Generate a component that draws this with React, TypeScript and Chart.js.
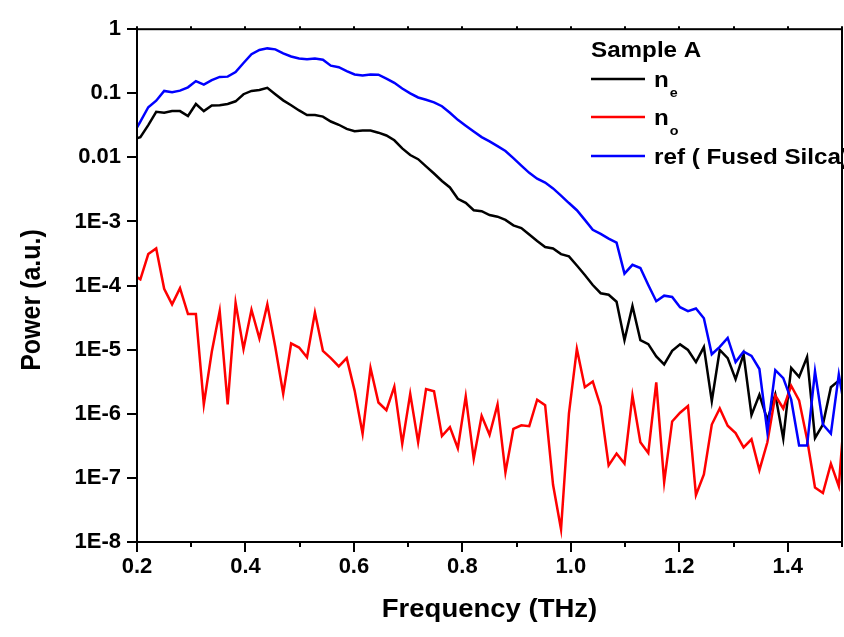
import React, { useEffect, useRef } from "react";
import { Chart, registerables } from "chart.js";

Chart.register(...registerables);

// Frequency samples (THz)
const FREQ = [
  0.1915, 0.2062, 0.2208, 0.2354, 0.2501, 0.2647, 0.2793, 0.294, 0.3086, 0.3232,
  0.3379, 0.3525, 0.3672, 0.3818, 0.3964, 0.4111, 0.4257, 0.4403, 0.455, 0.4696,
  0.4842, 0.4989, 0.5135, 0.5281, 0.5428, 0.5574, 0.5721, 0.5867, 0.6013, 0.616,
  0.6306, 0.6452, 0.6599, 0.6745, 0.6891, 0.7038, 0.7184, 0.733, 0.7477, 0.7623,
  0.777, 0.7916, 0.8062, 0.8209, 0.8355, 0.8501, 0.8648, 0.8794, 0.894, 0.9087,
  0.9233, 0.9379, 0.9526, 0.9672, 0.9819, 0.9965, 1.0111, 1.0258, 1.0404, 1.055,
  1.0697, 1.0843, 1.0989, 1.1136, 1.1282, 1.1428, 1.1575, 1.1721, 1.1868, 1.2014,
  1.216, 1.2307, 1.2453, 1.2599, 1.2746, 1.2892, 1.3038, 1.3185, 1.3331, 1.3477,
  1.3624, 1.377, 1.3917, 1.4063, 1.4209, 1.4356, 1.4502, 1.4648, 1.4795, 1.4941,
  1.5087,
];

// n_e (black)
const N_E = [
  0.0189, 0.0207, 0.0319, 0.0515, 0.0497, 0.0528, 0.0528, 0.0443, 0.0682, 0.0528,
  0.0644, 0.0652, 0.0682, 0.075, 0.0968, 0.109, 0.113, 0.122, 0.0968, 0.0776,
  0.0652, 0.054, 0.0459, 0.0457, 0.0433, 0.0363, 0.0323, 0.0278, 0.0256, 0.0262,
  0.0262, 0.0243, 0.022, 0.0185, 0.0138, 0.0109, 0.00938, 0.00724, 0.00561, 0.00429,
  0.0034, 0.00226, 0.00196, 0.0015, 0.00145, 0.00126, 0.00119, 0.00106, 0.00087, 0.00079,
  0.000625, 0.000495, 0.0004, 0.00038, 0.00031, 0.000286, 0.000206, 0.000146, 0.000102, 7.6e-5,
  7.2e-5, 5.6e-5, 1.41e-5, 4.8e-5, 1.41e-5, 1.22e-5, 7.85e-6, 5.9e-6, 9.6e-6, 1.21e-5,
  9.9e-6, 6.4e-6, 1.1e-5, 1.58e-6, 9.9e-6, 7.4e-6, 3.47e-6, 8.5e-6, 9.6e-7, 1.98e-6,
  8.05e-7, 2.0e-6, 4.1e-7, 5.2e-6, 3.76e-6, 7.7e-6, 4.2e-7, 6.8e-7, 2.6e-6, 3.3e-6,
  2.5e-6,
];

// n_o (red)
const N_O = [
  1.5e-4, 1.25e-4, 3.1e-4, 3.8e-4, 8.9e-5, 5.1e-5, 9.1e-5, 3.6e-5, 3.6e-5, 1.4e-6,
  9.3e-6, 4.0e-5, 1.4e-6, 5.4e-5, 1.03e-5, 4.2e-5, 1.5e-5, 5.1e-5, 1.1e-5, 2.05e-6,
  1.25e-5, 1.08e-5, 7.6e-6, 3.8e-5, 9.6e-6, 7.4e-6, 5.5e-6, 7.4e-6, 2.3e-6, 4.9e-7,
  5.2e-6, 1.5e-6, 1.14e-6, 2.65e-6, 3.4e-7, 2.05e-6, 3.6e-7, 2.44e-6, 2.25e-6, 4.5e-7,
  6.2e-7, 2.9e-7, 1.87e-6, 2.0e-7, 9.3e-7, 4.7e-7, 1.4e-6, 1.22e-7, 5.8e-7, 6.6e-7,
  6.4e-7, 1.66e-6, 1.36e-6, 7.8e-8, 1.58e-8, 1.02e-6, 1.03e-5, 2.6e-6, 3.2e-6, 1.3e-6,
  1.57e-7, 2.4e-7, 1.67e-7, 1.93e-6, 3.6e-7, 2.45e-7, 3.1e-6, 8.6e-8, 7.6e-7, 1.04e-6,
  1.32e-6, 5.4e-8, 1.13e-7, 6.8e-7, 1.21e-6, 6.5e-7, 5.0e-7, 3.0e-7, 4.0e-7, 1.32e-7,
  3.6e-7, 1.93e-6, 1.21e-6, 2.74e-6, 1.62e-6, 4.0e-7, 7.1e-8, 5.8e-8, 1.67e-7, 7.4e-8,
  3e-6,
];

// ref (Fused Silica) (blue)
const REF = [
  0.022, 0.0363, 0.0607, 0.0767, 0.109, 0.104, 0.11, 0.124, 0.155, 0.137,
  0.16, 0.18, 0.182, 0.214, 0.297, 0.407, 0.475, 0.502, 0.485, 0.421,
  0.375, 0.35, 0.341, 0.35, 0.334, 0.27, 0.255, 0.222, 0.197, 0.19,
  0.197, 0.195, 0.169, 0.146, 0.119, 0.1, 0.0861, 0.0794, 0.0723, 0.0629,
  0.0497, 0.0385, 0.0312, 0.0253, 0.0207, 0.0178, 0.015, 0.0126, 0.00973, 0.00743,
  0.00575, 0.00466, 0.00405, 0.00328, 0.00254, 0.00194, 0.0015, 0.00106, 0.00074, 0.00064,
  0.00054, 0.000467, 0.000154, 0.000211, 0.000188, 0.000102, 5.7e-5, 6.97e-5, 6.65e-5, 4.6e-5,
  4.0e-5, 4.4e-5, 3.1e-5, 8.5e-6, 1.11e-5, 1.53e-5, 6.4e-6, 9.3e-6, 8.0e-6, 5.0e-6,
  5.2e-7, 4.8e-6, 3.6e-6, 1.66e-6, 3.2e-7, 3.2e-7, 4.6e-6, 6.8e-7, 4.9e-7, 4.1e-6,
  8e-7,
];

const X_MAJOR = [0.2, 0.4, 0.6, 0.8, 1.0, 1.2, 1.4];
const X_MINOR = [0.3, 0.5, 0.7, 0.9, 1.1, 1.3, 1.5];
const Y_EXP = [-8, -7, -6, -5, -4, -3, -2, -1, 0];
const Y_LABELS = ["1E-8", "1E-7", "1E-6", "1E-5", "1E-4", "1E-3", "0.01", "0.1", "1"];

const FONT = "'Liberation Sans', Arial, Helvetica, sans-serif";
const SX = 1.1;

function drawText(ctx: CanvasRenderingContext2D, text: string, x: number, y: number, font: string, align: CanvasTextAlign = "left", rot = 0) {
  ctx.save();
  ctx.translate(x, y);
  ctx.scale(SX, 1);
  if (rot) ctx.rotate(rot);
  ctx.font = font;
  ctx.fillStyle = "#000";
  ctx.textAlign = align;
  ctx.textBaseline = "alphabetic";
  ctx.fillText(text, 0, 0);
  ctx.restore();
}

const decor = {
  id: "decor",
  afterDraw(chart: any) {
    const { ctx, chartArea, scales } = chart;
    const { left, right, top, bottom } = chartArea;
    const xs = scales.x;
    const ys = scales.y;
    ctx.save();
    ctx.strokeStyle = "#000";
    ctx.lineWidth = 2;
    ctx.strokeRect(left, top, right - left, bottom - top);
    ctx.beginPath();
    for (const v of X_MAJOR) {
      const p = Math.round(xs.getPixelForValue(v));
      ctx.moveTo(p, bottom);
      ctx.lineTo(p, bottom + 10);
      ctx.moveTo(p, top);
      ctx.lineTo(p, top - 3);
    }
    for (const v of X_MINOR) {
      const p = Math.round(xs.getPixelForValue(v));
      ctx.moveTo(p, bottom);
      ctx.lineTo(p, bottom + 5);
      ctx.moveTo(p, top);
      ctx.lineTo(p, top - 3);
    }
    for (const t of ys.ticks) {
      const p = Math.round(ys.getPixelForValue(t.value));
      const e = Math.log10(t.value);
      const major = Math.abs(e - Math.round(e)) < 1e-6;
      ctx.moveTo(left, p);
      ctx.lineTo(left - (major ? 10 : 5), p);
    }
    ctx.stroke();

    // axis titles
    drawText(ctx, "Frequency (THz)", (left + right) / 2, 617, `bold 25px ${FONT}`, "center");
    drawText(ctx, "Power (a.u.)", 40, 300, `bold 25px ${FONT}`, "center", -Math.PI / 2);

    // legend
    drawText(ctx, "Sample A", 591, 57, `bold 22px ${FONT}`);
    const ds = chart.data.datasets;
    const rows = [
      { y: 79, color: ds[0].borderColor, main: "n", sub: "e" },
      { y: 117, color: ds[1].borderColor, main: "n", sub: "o" },
      { y: 156, color: ds[2].borderColor, main: "ref ( Fused Silca)", sub: "" },
    ];
    for (const r of rows) {
      ctx.beginPath();
      ctx.strokeStyle = r.color;
      ctx.lineWidth = 2.5;
      ctx.moveTo(591, r.y);
      ctx.lineTo(645, r.y);
      ctx.stroke();
      drawText(ctx, r.main, 654, r.y + 8, `bold 22px ${FONT}`);
      if (r.sub) {
        ctx.font = `bold 22px ${FONT}`;
        const w = ctx.measureText(r.main).width * SX;
        drawText(ctx, r.sub, 654 + w + 1, r.y + 18, `bold 13px ${FONT}`);
      }
    }
    ctx.restore();
  },
};

export default function App() {
  const ref = useRef<HTMLCanvasElement>(null);
  useEffect(() => {
    const canvas = ref.current!;
    const mk = (arr: number[]) => FREQ.map((x, i) => ({ x, y: arr[i] }));
    const chart = new Chart(canvas, {
      type: "line",
      data: {
        datasets: [
          { label: "n_e", data: mk(N_E), borderColor: "#000000", borderWidth: 2.5, pointRadius: 0, tension: 0, fill: false, order: 3 },
          { label: "n_o", data: mk(N_O), borderColor: "#ff0000", borderWidth: 2.5, pointRadius: 0, tension: 0, fill: false, order: 2 },
          { label: "ref ( Fused Silca)", data: mk(REF), borderColor: "#0000ff", borderWidth: 2.5, pointRadius: 0, tension: 0, fill: false, order: 1 },
        ],
      },
      options: {
        responsive: false,
        animation: false,
        devicePixelRatio: 1,
        clip: 0,
        layout: { padding: { top: 16, right: 2, left: 0, bottom: 0 } },
        plugins: { legend: { display: false }, tooltip: { enabled: false }, title: { display: false } },
        scales: {
          x: {
            type: "linear",
            min: 0.2,
            max: 1.5,
            afterBuildTicks: (s: any) => {
              s.ticks = X_MAJOR.map((v) => ({ value: v }));
            },
            afterFit: (s: any) => {
              s.height = 95;
            },
            grid: { display: false, drawTicks: false },
            border: { display: false },
            ticks: {
              padding: 12,
              color: "#000",
              autoSkip: false,
              maxRotation: 0,
              font: { family: FONT, weight: "bold", size: 22 },
              callback: (v: any) => Number(v).toFixed(1),
            },
          },
          y: {
            type: "logarithmic",
            min: 1e-8,
            max: 1,
            afterBuildTicks: (s: any) => {
              const t: any[] = [];
              for (const e of Y_EXP) {
                for (let m = 1; m <= 9; m++) {
                  if (e === 0 && m > 1) break;
                  t.push({ value: m * Math.pow(10, e) });
                }
              }
              s.ticks = t;
            },
            afterFit: (s: any) => {
              s.width = 137;
            },
            grid: { display: false, drawTicks: false },
            border: { display: false },
            ticks: {
              padding: 16,
              color: "#000",
              autoSkip: false,
              font: { family: FONT, weight: "bold", size: 22 },
              callback: (v: any) => {
                const e = Math.log10(Number(v));
                const r = Math.round(e);
                if (Math.abs(e - r) > 1e-6) return null;
                const idx = Y_EXP.indexOf(r);
                return idx >= 0 ? Y_LABELS[idx] : null;
              },
            },
          },
        },
      } as any,
      plugins: [decor],
    });
    return () => chart.destroy();
  }, []);
  return (
    <canvas
      ref={ref}
      width={844}
      height={637}
      style={{ position: "absolute", left: 0, top: 0, display: "block" }}
    />
  );
}
